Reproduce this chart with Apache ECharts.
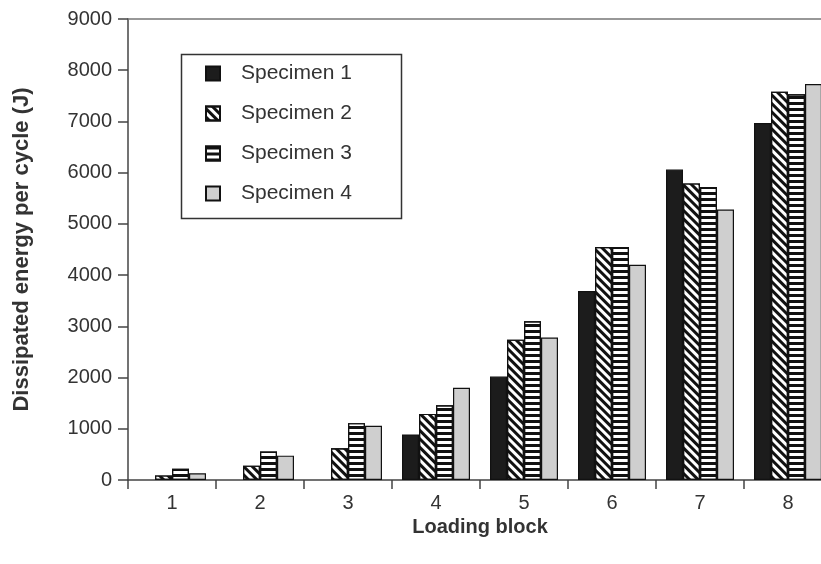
<!DOCTYPE html>
<html lang="en">
<head>
    <meta charset="UTF-8">
    <title>Dissipated energy per cycle</title>
    <style>
        * { margin: 0; padding: 0; box-sizing: border-box; }
        body { background: #fff; }
        #chart { width: 821px; height: 564px; }
    </style>
</head>
<body>
    <div id="chart"></div>
    <script src="https://cdn.jsdelivr.net/npm/echarts@6/dist/echarts.min.js"></script>
    <script>
    (() => {
        const blocks = ['1', '2', '3', '4', '5', '6', '7', '8'];
        const specimen1 = [null, null, null, 890, 2020, 3690, 6060, 6970];
        const specimen2 = [90, 280, 620, 1290, 2740, 4550, 5790, 7580];
        const specimen3 = [220, 555, 1110, 1460, 3100, 4550, 5720, 7530];
        const specimen4 = [130, 475, 1060, 1800, 2780, 4200, 5280, 7730];
        const yTicks = { min: 0, max: 9000, interval: 1000 };

        const FONT = '"Liberation Sans", Arial, sans-serif';
        const chart = echarts.init(document.getElementById('chart'));

        const bar = (name, data, itemStyle) => ({
            name, type: 'bar', data,
            barWidth: 17, barGap: '0%',
            itemStyle: Object.assign({ borderColor: '#111', borderWidth: 1.2 }, itemStyle)
        });

        chart.setOption({
            animation: false,
            textStyle: { fontFamily: FONT, color: '#333' },
            // plot runs past the right edge in the original (cropped figure)
            grid: { left: 128, top: 19, width: 704, height: 461, outerBoundsMode: 'none', containLabel: false },
            graphic: [{
                type: 'rect', left: 179, top: 52, z: 10,
                shape: { width: 220, height: 164 },
                style: { fill: null, stroke: '#333', lineWidth: 1.5 }
            }],
            legend: {
                orient: 'vertical', left: 205, top: 63, padding: 0,
                itemWidth: 14, itemHeight: 14, itemGap: 19,
                icon: 'rect',
                textStyle: { fontSize: 21, color: '#333', padding: [0, 0, 0, 16] }
            },
            xAxis: [{
                type: 'category', data: blocks,
                name: 'Loading block', nameLocation: 'middle', nameGap: 30,
                nameTextStyle: { fontSize: 20, fontWeight: 'bold', color: '#333' },
                axisLine: { lineStyle: { color: '#444', width: 1.5 } },
                axisTick: { show: true, length: 9, inside: false, lineStyle: { color: '#444', width: 1.5 } },
                axisLabel: { fontSize: 20, color: '#333', margin: 13 }
            }, {
                type: 'category', data: blocks, position: 'top',
                axisLine: { lineStyle: { color: '#777', width: 1.5 } },
                axisTick: { show: false }, axisLabel: { show: false }
            }],
            yAxis: {
                type: 'value', min: yTicks.min, max: yTicks.max, interval: yTicks.interval,
                name: 'Dissipated energy per cycle (J)', nameLocation: 'middle', nameGap: 95,
                nameTextStyle: { fontSize: 22, fontWeight: 'bold', color: '#333' },
                axisLine: { show: true, lineStyle: { color: '#444', width: 1.5 } },
                axisTick: { show: true, length: 10, lineStyle: { color: '#444', width: 1.5 } },
                axisLabel: { fontSize: 20, color: '#333', margin: 16, formatter: v => String(v) },
                splitLine: { show: false }
            },
            series: [
                bar('Specimen 1', specimen1, { color: '#1c1c1c' }),
                bar('Specimen 2', specimen2, {
                    color: '#fff',
                    decal: { symbol: 'rect', symbolSize: 1, color: '#111', dashArrayX: [1, 0], dashArrayY: [3, 3], rotation: Math.PI / 4 }
                }),
                bar('Specimen 3', specimen3, {
                    color: '#fff',
                    decal: { symbol: 'rect', symbolSize: 1, color: '#111', dashArrayX: [1, 0], dashArrayY: [3, 3], rotation: 0 }
                }),
                bar('Specimen 4', specimen4, { color: '#cfcfcf' })
            ]
        });
    })();
    </script>
</body>
</html>
